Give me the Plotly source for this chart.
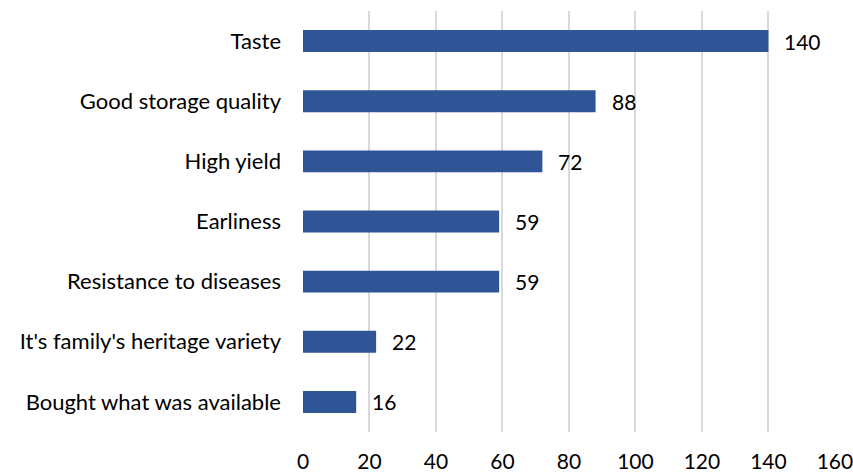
import plotly.graph_objects as go

categories = ["Taste", "Good storage quality", "High yield", "Earliness",
              "Resistance to diseases", "It's family's heritage variety",
              "Bought what was available"]
values = [140, 88, 72, 59, 59, 22, 16]
x_ticks = [0, 20, 40, 60, 80, 100, 120, 140, 160]

FONT = "Lato, Carlito, Calibri, sans-serif"
BAR = "#2F5597"

fig = go.Figure(go.Bar(
    x=values, y=categories, orientation="h",
    marker=dict(color=BAR, line=dict(width=0)),
    hoverinfo="skip",
))

for c, v in zip(categories, values):
    fig.add_annotation(x=v, y=c, text=str(v), showarrow=False,
                       xanchor="left", xshift=14,
                       font=dict(family=FONT, size=21, color="#000000"))

fig.update_layout(
    width=853, height=473,
    margin=dict(l=303, r=18, t=11, b=41, autoexpand=False),
    paper_bgcolor="white", plot_bgcolor="white",
    bargap=0.635,
    showlegend=False,
    font=dict(family=FONT, size=21, color="#000000"),
)
fig.update_xaxes(range=[0, 160.02], tickvals=x_ticks, showgrid=True,
                 gridcolor="#D9D9D9", gridwidth=1.5, zeroline=False,
                 showline=False, ticks="", ticklabelstandoff=15,
                 automargin=False, ticklabeloverflow="allow",
                 tickfont=dict(family=FONT, size=21, color="#000000"))
fig.update_yaxes(categoryorder="array", categoryarray=categories[::-1],
                 showgrid=False, zeroline=False, showline=False, ticks="",
                 ticklabelstandoff=21, automargin=False,
                 tickfont=dict(family=FONT, size=22, color="#000000"))

fig.write_html("out.html", config={"displayModeBar": False},
               post_script="document.body.style.margin='0';document.body.style.overflow='hidden';")
